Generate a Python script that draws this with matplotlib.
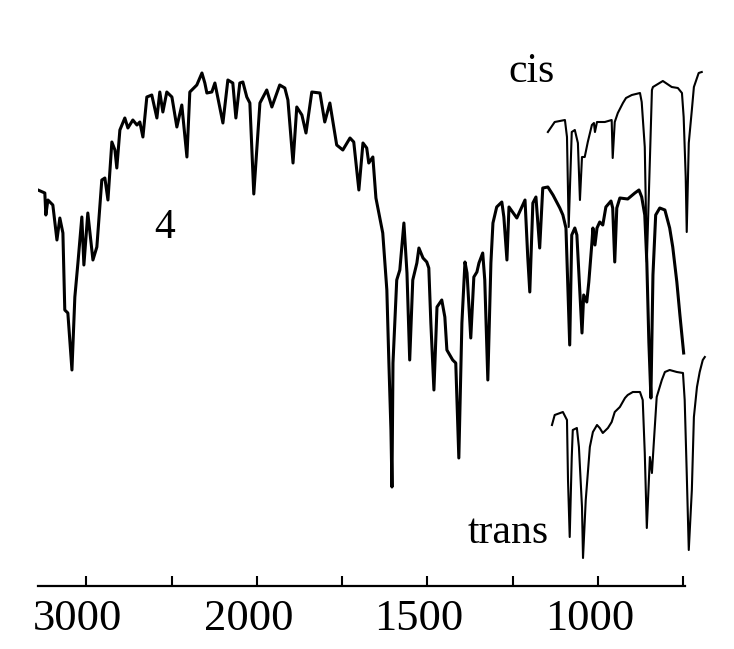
import numpy as np
import matplotlib
matplotlib.use("Agg")
import matplotlib.pyplot as plt
from matplotlib.transforms import ScaledTranslation

# ---- data: IR spectra (wavenumber in cm^-1, transmittance in arbitrary units) ----
main_wn = [3283, 3243, 3237, 3225, 3196, 3172, 3155, 3137, 3126, 3108, 3084, 3067, 3049, 3026,
           3014, 2991, 2961, 2938, 2909, 2891, 2873, 2850, 2832, 2821, 2803, 2774, 2756, 2727,
           2703, 2686, 2668, 2645, 2616, 2586, 2569, 2551, 2528, 2498, 2469, 2440, 2410, 2393,
           2352, 2322, 2305, 2293, 2264, 2246, 2199, 2170, 2141, 2123, 2100, 2082, 2059, 2041,
           2018, 1991, 1971, 1956, 1933, 1918, 1909, 1894, 1883, 1868, 1856, 1839, 1815, 1801,
           1786, 1766, 1748, 1727, 1716, 1701, 1689, 1678, 1672, 1660, 1651, 1631, 1619, 1613,
           1607, 1604, 1601, 1590, 1581, 1569, 1560, 1552, 1543, 1531, 1525, 1513, 1502, 1496,
           1490, 1481, 1472, 1458, 1449, 1443, 1426, 1417, 1408, 1399, 1390, 1384, 1373, 1364,
           1355, 1349, 1338, 1332, 1323, 1314, 1308, 1297, 1282, 1276, 1267, 1261, 1238, 1214,
           1206, 1200, 1191, 1182, 1171, 1162, 1147, 1132, 1112, 1103, 1094, 1088, 1083, 1077,
           1068, 1062, 1056, 1047, 1042, 1033, 1027, 1018, 1015, 1009, 1003, 995, 986, 977,
           962, 957, 951, 945, 936, 913, 892, 880, 872, 863, 857, 851, 845, 839, 831, 819,
           804, 790, 781, 769, 760, 749]
main_t = [396, 393, 371, 386, 381, 346, 368, 353, 276, 273, 216, 289, 323, 369,
          321, 373, 326, 339, 406, 408, 386, 444, 436, 418, 456, 468, 458, 466,
          461, 464, 449, 489, 491, 468, 494, 474, 494, 489, 459, 481, 429, 494,
          501, 513, 503, 493, 494, 503, 463, 506, 503, 468, 503, 504, 489, 483,
          392, 483, 496, 479, 501, 498, 486, 423, 479, 471, 453, 494, 493, 464,
          483, 441, 436, 448, 444, 396, 443, 438, 423, 429, 388, 353, 296, 223,
          156, 99, 223, 306, 316, 363, 313, 226, 306, 323, 338, 328, 324, 318,
          263, 196, 279, 286, 269, 236, 226, 223, 128, 263, 324, 313, 248, 309,
          314, 323, 333, 306, 206, 323, 363, 379, 384, 369, 326, 379, 368, 386,
          329, 294, 383, 389, 338, 398, 399, 391, 378, 371, 358, 294, 241, 351,
          358, 351, 311, 253, 291, 284, 304, 343, 358, 341, 358, 364, 361, 379,
          385, 378, 324, 378, 388, 387, 393, 396, 389, 371, 324, 244, 188, 311, 371, 378,
          376, 358, 339, 304, 271, 233]

cis_wn = [1147, 1127, 1097, 1091, 1086, 1077, 1068, 1059, 1053, 1047, 1039, 1030, 1018, 1012,
          1009, 1003, 980, 960, 957, 951, 942, 927, 918, 901, 877, 872, 863, 857, 848, 842,
          839, 810, 784, 766, 754, 749, 743, 740, 734, 725, 719, 710, 705, 696]
cis_t = [454, 464, 466, 449, 359, 454, 456, 443, 386, 429, 429, 444, 461, 463,
         454, 464, 464, 466, 428, 464, 473, 483, 488, 491, 493, 484, 439, 324, 426, 496,
         499, 505, 499, 498, 493, 469, 409, 354, 443, 476, 499, 508, 513, 514]

trans_wn = [1135, 1127, 1103, 1091, 1088, 1083, 1077, 1074, 1062, 1056, 1047, 1044, 1036, 1024,
            1015, 1003, 995, 986, 971, 960, 951, 936, 921, 913, 898, 877, 869, 863, 857, 848,
            842, 836, 828, 813, 804, 790, 769, 751, 746, 740, 734, 725, 719, 710, 702, 693, 687]
trans_t = [161, 171, 174, 166, 106, 49, 129, 156, 158, 139, 79, 28, 86, 139,
           154, 161, 158, 153, 158, 164, 174, 179, 188, 191, 194, 194, 186, 133, 58, 129,
           113, 146, 189, 206, 214, 216, 214, 213, 186, 113, 36, 96, 169, 199, 214, 226, 229]

tick_values = [3000, 2500, 2000, 1750, 1500, 1250, 1000, 750]
tick_labels = ["3000", "", "2000", "", "1500", "", "1000", ""]

# ---- figure ----
W, H, DPI = 734, 649, 100
fig = plt.figure(figsize=(W / DPI, H / DPI), dpi=DPI)
ax = fig.add_axes([38 / W, 63 / H, 669.2 / W, 586 / H])

# x scale: compressed above 2000 cm^-1 (half the spacing of the range below 2000)
def fwd(w):
    w = np.asarray(w, dtype=float)
    return np.where(w >= 2000, w, 2 * w - 2000)

def inv(u):
    u = np.asarray(u, dtype=float)
    return np.where(u >= 2000, u, (u + 2000) / 2)

ax.set_xscale("function", functions=(fwd, inv))
ax.set_xlim(3283, 680)
ax.set_ylim(0, 586)

ax.plot(main_wn, main_t, color="black", lw=2.2, solid_joinstyle="round")
ax.plot(cis_wn, cis_t, color="black", lw=1.5, solid_joinstyle="round")
ax.plot(trans_wn, trans_t, color="black", lw=1.5, solid_joinstyle="round")

serif = ["Liberation Serif", "DejaVu Serif"]
ax.text(1264, 504, "cis", fontsize=30, family=serif, ha="left", va="baseline")
ax.text(1382, 43, "trans", fontsize=30, family=serif, ha="left", va="baseline")
ax.text(2604, 348, "4", fontsize=30, family=serif, ha="left", va="baseline")

for s in ["top", "left", "right"]:
    ax.spines[s].set_visible(False)
ax.spines["bottom"].set_linewidth(1.6)
ax.spines["bottom"].set_bounds(3283, 746)
ax.set_yticks([])
ax.set_xticks(tick_values)
ax.set_xticklabels(tick_labels, fontsize=32, family=serif)
ax.tick_params(axis="x", direction="in", length=7, width=1.5, pad=9)
for lab in ax.get_xticklabels():
    lab.set_transform(lab.get_transform() + ScaledTranslation(-8.5 / DPI, 0, fig.dpi_scale_trans))
ax.minorticks_off()
ax.patch.set_visible(False)

fig.savefig("out.png", dpi=DPI)
